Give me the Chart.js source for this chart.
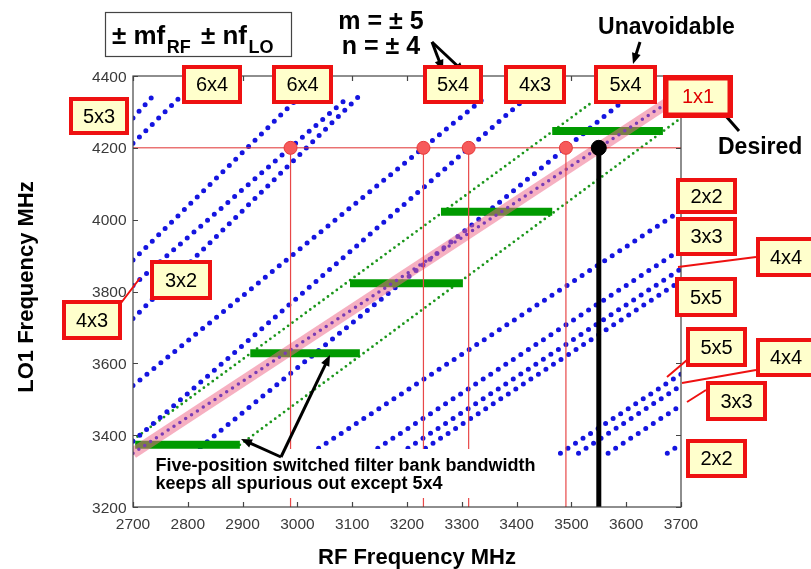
<!DOCTYPE html>
<html>
<head>
<meta charset="utf-8">
<script src="https://cdn.jsdelivr.net/npm/chart.js@4.4.0/dist/chart.umd.min.js"></script>
<style>
  html, body { margin: 0; padding: 0; background: #fff; }
</style>
</head>
<body>
<canvas id="spurChart" width="811" height="569"></canvas>
<script>
// axis ticks (MHz)
const rfTicks = [2700, 2800, 2900, 3000, 3100, 3200, 3300, 3400, 3500, 3600, 3700];
const loTicks = [3200, 3400, 3600, 3800, 4000, 4200, 4400];

// [RF, LO1] end points of each product line (MHz)
const desired1x1 = [[2700, 3350], [3690, 4340]];
const spur6x4Plus = [[2700, 4212.5], [2785, 4340]];
const spur6x4Minus = [[2700, 3887.5], [3002, 4340]];
const spur5x3 = [[2700, 4283], [2734, 4340]];
const spur3x2 = [[2700, 3725], [3110, 4340]];
const spur4x3Plus = [[2700, 3817], [3092, 4340]];
const spur4x3Minus = [[2700, 3383], [3418, 4340]];
const spur5x4Plus = [[2700, 3538], [3342, 4340]];
const spur5x4Minus = [[2810, 3350], [3602, 4340]];
const spur2x2Hi = [[3025, 3350], [3700, 4025]];
const spur3x3Hi = [[3133, 3350], [3700, 3917]];
const spur4x4Hi = [[3188, 3350], [3700, 3863]];
const spur5x5Hi = [[3220, 3350], [3700, 3830]];
const spur2x2Lo = [[3675, 3350], [3700, 3375]];
const spur3x3Lo = [[3567, 3350], [3700, 3483]];
const spur4x4Lo = [[3513, 3350], [3700, 3538]];
const spur5x5Lo = [[3480, 3350], [3700, 3570]];

// switched filter bank: [RF start, RF end, LO1]
const filterBands = [
  [2704, 2895, 3373],
  [2914, 3114, 3628],
  [3096, 3302, 3823],
  [3262, 3465, 4022],
  [3465, 3667, 4247]
];
const bandEdgeLeft = [[2700, 3387], [3537, 4326]];
const bandEdgeRight = [[2895, 3373], [3700, 4283]];

// tuned point and the spurs that land on the same LO1
const tuneRF = 3550;
const tuneLO = 4200;
const spurRF = [2987.5, 3230, 3312.5, 3490];

const pts = seg => seg.map(p => ({ x: p[0], y: p[1] }));

const spurSets = [spur6x4Plus, spur6x4Minus, spur5x3, spur3x2, spur4x3Plus, spur4x3Minus,
  spur5x4Plus, spur5x4Minus, spur2x2Hi, spur3x3Hi, spur4x4Hi, spur5x5Hi,
  spur2x2Lo, spur3x3Lo, spur4x4Lo, spur5x5Lo];

const datasets = [];

// black tuned marker on top
datasets.push({
  data: [{ x: tuneRF, y: 3200 }, { x: tuneRF, y: tuneLO }],
  showLine: true, borderColor: '#000', borderWidth: 5, pointRadius: 0, order: 0
});
datasets.push({
  data: [{ x: tuneRF, y: tuneLO }],
  pointRadius: 7.5, backgroundColor: '#000', borderColor: '#000', order: 0
});

// red spur markers
datasets.push({
  data: spurRF.map(f => ({ x: f, y: tuneLO })),
  pointRadius: 6.5, backgroundColor: '#f75a5a', borderColor: '#e53a3a', borderWidth: 1, order: 1
});
spurRF.forEach(f => datasets.push({
  data: [{ x: f, y: 3200 }, { x: f, y: tuneLO }],
  showLine: true, borderColor: '#e84848', borderWidth: 1.2, pointRadius: 0, order: 2
}));
datasets.push({
  data: [{ x: 2700, y: tuneLO }, { x: 3700, y: tuneLO }],
  showLine: true, borderColor: '#e03030', borderWidth: 1, pointRadius: 0, order: 2
});

// desired 1x1: pink band with dots
datasets.push({
  data: pts(desired1x1), showLine: true, borderColor: '#7a3cb4', borderWidth: 3.5,
  borderDash: [0, 7], borderCapStyle: 'round', pointRadius: 0, order: 3
});
datasets.push({
  data: pts(desired1x1), showLine: true, borderColor: 'rgba(238,104,136,0.52)', borderWidth: 11,
  pointRadius: 0, order: 4
});

// filter bank bars
filterBands.forEach(b => datasets.push({
  data: [{ x: b[0], y: b[2] }, { x: b[1], y: b[2] }],
  showLine: true, borderColor: '#009a00', borderWidth: 8, pointRadius: 0, order: 5
}));

// spurious products
spurSets.forEach(seg => datasets.push({
  data: pts(seg), showLine: true, borderColor: '#1414e0', borderWidth: 5,
  borderDash: [0, 9], borderCapStyle: 'round', pointRadius: 0, order: 6
}));

// filter band edges
[bandEdgeLeft, bandEdgeRight].forEach(seg => datasets.push({
  data: pts(seg), showLine: true, borderColor: '#1b961b', borderWidth: 2.8,
  borderDash: [0, 5.5], borderCapStyle: 'round', pointRadius: 0, order: 7
}));

// product labels: text, x, y, w, h
const labelBoxes = [
  ['5x3', 69, 97, 60, 38], ['6x4', 182, 65, 60, 39], ['6x4', 272, 65, 61, 39],
  ['5x4', 423, 65, 60, 39], ['4x3', 504, 65, 62, 39], ['5x4', 594, 65, 63, 39],
  ['2x2', 676, 178, 61, 36], ['3x3', 676, 217, 61, 39], ['4x4', 756, 237, 60, 40],
  ['5x5', 675, 277, 62, 40], ['5x5', 686, 327, 61, 40], ['4x4', 756, 338, 60, 39],
  ['3x3', 706, 381, 61, 40], ['2x2', 686, 439, 61, 39], ['3x2', 150, 260, 62, 40],
  ['4x3', 62, 300, 60, 40]
];
const leaders = [
  [121, 303, 140, 278], [756, 257, 678, 267], [687, 360, 667, 377],
  [756, 370, 682, 383], [706, 390, 687, 402]
];

function arrow(ctx, x1, y1, x2, y2) {
  const ang = Math.atan2(y2 - y1, x2 - x1);
  const len = 11, half = 4.5;
  ctx.beginPath();
  ctx.moveTo(x1, y1);
  ctx.lineTo(x2 - Math.cos(ang) * len * 0.8, y2 - Math.sin(ang) * len * 0.8);
  ctx.stroke();
  ctx.beginPath();
  ctx.moveTo(x2, y2);
  ctx.lineTo(x2 - Math.cos(ang) * len + Math.sin(ang) * half, y2 - Math.sin(ang) * len - Math.cos(ang) * half);
  ctx.lineTo(x2 - Math.cos(ang) * len - Math.sin(ang) * half, y2 - Math.sin(ang) * len + Math.cos(ang) * half);
  ctx.closePath();
  ctx.fill();
}

const decorations = {
  id: 'decorations',
  afterDraw(chart) {
    const { ctx, chartArea: a, scales: { x, y } } = chart;
    const sans = '"Liberation Sans", Arial, sans-serif';
    ctx.save();

    // note background
    ctx.fillStyle = '#fff';
    ctx.fillRect(150, 449, 398, 49);

    // axes box with inward ticks
    ctx.strokeStyle = '#444';
    ctx.lineWidth = 1.2;
    ctx.strokeRect(a.left, a.top, a.right - a.left, a.bottom - a.top);
    ctx.beginPath();
    rfTicks.forEach(v => {
      const px = Math.round(x.getPixelForValue(v)) + 0.5;
      ctx.moveTo(px, a.bottom); ctx.lineTo(px, a.bottom - 5);
      ctx.moveTo(px, a.top); ctx.lineTo(px, a.top + 5);
    });
    loTicks.forEach(v => {
      const py = Math.round(y.getPixelForValue(v)) + 0.5;
      ctx.moveTo(a.left, py); ctx.lineTo(a.left + 5, py);
      ctx.moveTo(a.right, py); ctx.lineTo(a.right - 5, py);
    });
    ctx.stroke();

    ctx.fillStyle = '#3a3a3a';
    ctx.font = '15.5px ' + sans;
    ctx.textAlign = 'center';
    ctx.textBaseline = 'alphabetic';
    rfTicks.forEach(v => ctx.fillText(String(v), x.getPixelForValue(v), 529));
    ctx.textAlign = 'right';
    loTicks.forEach(v => ctx.fillText(String(v), a.left - 6.5, y.getPixelForValue(v) + 5.5));

    // axis titles
    ctx.fillStyle = '#000';
    ctx.font = 'bold 22px ' + sans;
    ctx.textAlign = 'center';
    ctx.fillText('RF Frequency MHz', 417, 564);
    ctx.save();
    ctx.translate(33, 287);
    ctx.rotate(-Math.PI / 2);
    ctx.fillText('LO1 Frequency MHz', 0, 0);
    ctx.restore();

    // formula box
    ctx.strokeStyle = '#444';
    ctx.lineWidth = 1.2;
    ctx.strokeRect(105.5, 12.5, 186, 44);
    ctx.textAlign = 'left';
    let cx = 112;
    [['± mf', 26, 43.5], ['RF', 18, 53], [' ± nf', 26, 43.5], ['LO', 18, 53]].forEach(p => {
      ctx.font = 'bold ' + p[1] + 'px ' + sans;
      ctx.fillText(p[0], cx, p[2]);
      cx += ctx.measureText(p[0]).width + (p[1] === 26 ? 1.5 : 3);
    });

    ctx.font = 'bold 25px ' + sans;
    ctx.textAlign = 'center';
    ctx.fillText('m = ± 5', 381, 28.5);
    ctx.fillText('n = ± 4', 381, 53.5);
    ctx.font = 'bold 23px ' + sans;
    ctx.fillText('Unavoidable', 666.5, 33.5);
    ctx.textAlign = 'left';
    ctx.fillText('Desired', 718, 153.5);

    ctx.font = 'bold 18px ' + sans;
    ctx.fillText('Five-position switched filter bank bandwidth', 155.5, 471);
    ctx.fillText('keeps all spurious out except 5x4', 155.5, 488.5);

    // arrows
    ctx.strokeStyle = '#000';
    ctx.fillStyle = '#000';
    ctx.lineWidth = 3;
    arrow(ctx, 432, 42, 443, 71);
    arrow(ctx, 432, 42, 465, 73);
    arrow(ctx, 640, 42, 633, 64);
    arrow(ctx, 739, 131, 717, 106);
    arrow(ctx, 281, 457, 241, 439);
    arrow(ctx, 281, 457, 330, 355);

    // leader lines and label boxes
    ctx.strokeStyle = '#ee1111';
    ctx.lineWidth = 2;
    ctx.beginPath();
    leaders.forEach(l => { ctx.moveTo(l[0], l[1]); ctx.lineTo(l[2], l[3]); });
    ctx.stroke();

    const box = (t, bx, by, bw, bh, lw, color) => {
      ctx.fillStyle = '#ffffcc';
      ctx.fillRect(bx, by, bw, bh);
      ctx.strokeStyle = '#ee1111';
      ctx.lineWidth = lw;
      ctx.strokeRect(bx + lw / 2, by + lw / 2, bw - lw, bh - lw);
      ctx.fillStyle = color;
      ctx.font = '20px ' + sans;
      ctx.textAlign = 'center';
      ctx.textBaseline = 'middle';
      ctx.fillText(t, bx + bw / 2, by + bh / 2 + 1);
      ctx.textBaseline = 'alphabetic';
    };
    labelBoxes.forEach(b => box(b[0], b[1], b[2], b[3], b[4], 4, '#000'));
    box('1x1', 663, 75, 70, 43, 5.5, '#e00000');

    ctx.restore();
  }
};

new Chart(document.getElementById('spurChart').getContext('2d'), {
  type: 'scatter',
  data: { datasets: datasets },
  options: {
    responsive: false,
    animation: false,
    events: [],
    layout: { padding: { left: 133, right: 130, top: 76, bottom: 62 } },
    scales: {
      x: { type: 'linear', min: 2700, max: 3700, display: false },
      y: { type: 'linear', min: 3200, max: 4400, display: false }
    },
    plugins: { legend: { display: false }, tooltip: { enabled: false } }
  },
  plugins: [decorations]
});
</script>
</body>
</html>
